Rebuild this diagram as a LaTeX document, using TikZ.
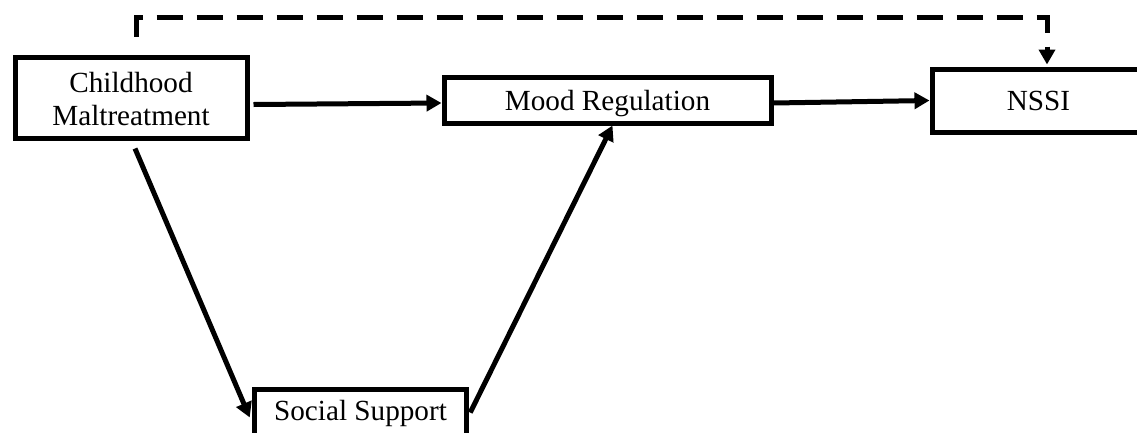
\documentclass[tikz,border=0pt]{standalone}
\usepackage{fontspec}
\setmainfont{Liberation Serif}
\usetikzlibrary{arrows.meta,calc}
\begin{document}
\begin{tikzpicture}[x=1pt,y=-1pt,
  box/.style={draw=black,line width=5pt,rectangle,inner sep=0pt,
    font=\fontsize{29.2}{33}\selectfont,align=center},
  arr/.style={line width=5pt,-{Triangle[length=15pt,width=16pt]}},
  dasharr/.style={line width=5pt,dash pattern=on 26pt off 14pt,-{Triangle[length=15pt,width=16pt]}}]
\useasboundingbox (0,0) rectangle (1137,432);
\clip (0,0) rectangle (1137,432);
\node[box,minimum width=232pt,minimum height=81pt,text height=55pt,text depth=0pt] (cm) at (131,97.5) {Childhood\\Maltreatment};
\node[box,minimum width=327pt,minimum height=46pt,text height=20pt,text depth=0pt] (mr) at (607.5,100) {Mood Regulation};
\node[box,minimum width=213pt,minimum height=63pt,text height=19pt,text depth=0pt] (ns) at (1038.5,100.5) {NSSI};
\node[box,minimum width=212.5pt,anchor=north,inner ysep=11pt,text height=20pt,text depth=8pt] (ss) at (360.5,387) {Social Support};
\coordinate (d0) at ($(cm.north)+(5,-18)$);
\coordinate (d1) at (136,17);
\coordinate (d2) at (1047,17);
\draw[dasharr] (d0) -- (d1) -- (d2) -- ($(ns.north)+(8.5,-2)$);
\draw[arr] ($(cm.east)+(4,7)$) -- ($(mr.west)+(0,3)$);
\draw[arr] ($(mr.east)+(0,3)$) -- (ns.west);
\draw[arr] ($(cm.south)+(4,8)$) -- ($(ss.west)+(-2,3)$);
\draw[arr] ($(ss.east)+(1,-2)$) -- ($(mr.south)+(5,0)$);
\end{tikzpicture}
\end{document}
